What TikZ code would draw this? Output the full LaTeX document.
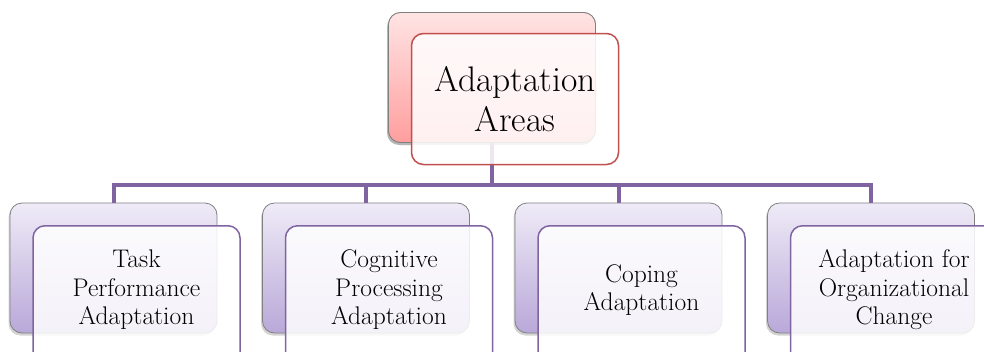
\documentclass[tikz,border=0pt]{standalone}
\usetikzlibrary{shadows}
\definecolor{pinkTop}{HTML}{FFE4E4}
\definecolor{pinkBot}{HTML}{FF9E9E}
\definecolor{redLine}{HTML}{C0504D}
\definecolor{lavTop}{HTML}{EFEBF7}
\definecolor{lavBot}{HTML}{B9A8D9}
\definecolor{purLine}{HTML}{8064A2}
\definecolor{grayLine}{HTML}{808080}
\tikzset{
  backbox/.style={rectangle, rounded corners=12pt, draw=grayLine, line width=0.8pt,
    minimum width=207pt, minimum height=130pt, inner sep=0pt,
    drop shadow={shadow xshift=-1.5pt, shadow yshift=-2.5pt, opacity=0.35}},
  topback/.style={backbox, top color=pinkTop, bottom color=pinkBot},
  lowback/.style={backbox, top color=lavTop, bottom color=lavBot},
  frontbox/.style={rectangle, rounded corners=12pt, line width=1.5pt,
    minimum width=207pt, inner sep=0pt,
    fill opacity=0.85, text opacity=1, align=center},
  topfront/.style={frontbox, minimum height=131pt, draw=redLine, fill=white,
    font=\fontsize{35.5}{40}\selectfont},
  lowfront/.style={frontbox, minimum height=140pt, anchor=north, draw=purLine, fill=white},
  lowtext/.style={align=center, inner sep=0pt, font=\fontsize{25.5}{28.5}\selectfont}
}
\tikzset{conn/.style={draw=purLine, line width=4pt}}
\begin{document}
\begin{tikzpicture}[x=1pt,y=-1pt]
\useasboundingbox (0,0) rectangle (984,351);
\coordinate (bus) at (0,185);
% back boxes
\node[topback] (tb) at (492,77.5) {};
\node[lowback] (b1) at (113.5,268) {};
\node[lowback] (b2) at (366,268) {};
\node[lowback] (b3) at (618.5,268) {};
\node[lowback] (b4) at (871,268) {};
% connectors
\draw[conn] (tb.center) -- (tb.center |- bus) -| (b1.north);
\draw[conn] (tb.center) -- (tb.center |- bus) -| (b2.north);
\draw[conn] (tb.center) -- (tb.center |- bus) -| (b3.north);
\draw[conn] (tb.center) -- (tb.center |- bus) -| (b4.north);
\node[topback] at (tb) {};
% front boxes
\node[topfront] (tf) at (515,99) {Adaptation\\Areas};
\node[lowfront] (f1) at (136.5,225) {};
\node[lowfront] (f2) at (389,225) {};
\node[lowfront] (f3) at (641.5,225) {};
\node[lowfront] (f4) at (894,225) {};
% texts
\node[lowtext] (t1) at (136.5,290) {Task\\Performance\\Adaptation};
\node[lowtext] (t2) at (389,290) {Cognitive\\Processing\\Adaptation};
\node[lowtext] (t3) at (641.5,290) {Coping\\Adaptation};
\node[lowtext] (t4) at (894,290) {Adaptation for\\Organizational\\Change};
\end{tikzpicture}
\end{document}
